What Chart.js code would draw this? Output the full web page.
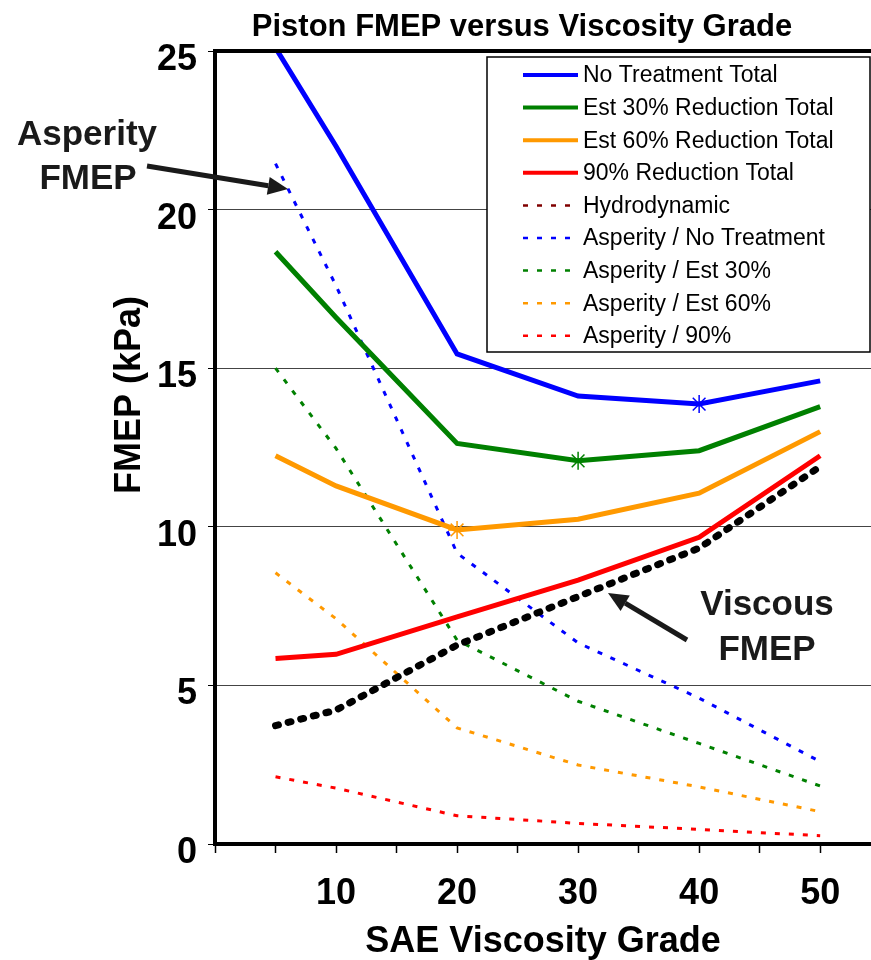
<!DOCTYPE html>
<html>
<head>
<meta charset="utf-8">
<title>Piston FMEP versus Viscosity Grade</title>
<script src="https://cdn.jsdelivr.net/npm/chart.js@4.4.1/dist/chart.umd.min.js"></script>
<style>
	html, body { margin: 0; padding: 0; background: #fff; overflow: hidden; }
	#wrap { width: 871px; height: 960px; }
</style>
</head>
<body>
<div id="wrap"><canvas id="fmepChart" width="871" height="960"></canvas></div>
<script>
	// SAE grades (x positions) and tick labels
	const grades = [5, 10, 20, 30, 40, 50];
	const xTickLabels = [10, 20, 30, 40, 50];
	const yTickLabels = [0, 5, 10, 15, 20, 25];

	// Total FMEP (kPa)
	const noTreatmentTotal = [25.1, 22.0, 15.45, 14.12, 13.87, 14.6];
	const est30Total = [18.67, 16.6, 12.63, 12.08, 12.40, 13.79];
	const est60Total = [12.24, 11.29, 9.9, 10.24, 11.06, 13.0];
	const red90Total = [5.85, 5.98, 7.16, 8.32, 9.67, 12.24];

	// Components (kPa)
	const hydrodynamic = [3.73, 4.22, 6.27, 7.8, 9.33, 11.9];
	const asperityNoTreatment = [21.45, 17.6, 9.17, 6.34, 4.6, 2.6];
	const asperity30 = [15.0, 12.47, 6.43, 4.5, 3.17, 1.83];
	const asperity60 = [8.55, 7.1, 3.66, 2.49, 1.8, 1.02];
	const asperity90 = [2.12, 1.76, 0.89, 0.65, 0.46, 0.26];

	const FONT = "'Liberation Sans', Arial, sans-serif";
	const DOTS = [5, 9];

	const toPoints = arr => grades.map((g, i) => ({ x: g, y: arr[i] }));
	// star marker on a single grade
	const starAt = grade => grades.map(g => (g === grade ? 9 : 0));

	function solid(label, data, color, star) {
		return {
			label: label,
			data: toPoints(data),
			borderColor: color,
			backgroundColor: color,
			borderWidth: 5,
			pointStyle: 'star',
			pointRadius: star ? starAt(star) : 0,
			pointBorderColor: color,
			pointBorderWidth: 1.5,
			order: 1
		};
	}

	function dotted(label, data, color) {
		return {
			label: label,
			data: toPoints(data),
			borderColor: color,
			backgroundColor: color,
			borderWidth: 3,
			borderDash: DOTS,
			pointRadius: 0,
			order: 2
		};
	}

	const datasets = [
		solid('No Treatment Total', noTreatmentTotal, '#0000ff', 40),
		solid('Est 30% Reduction Total', est30Total, '#008000', 30),
		solid('Est 60% Reduction Total', est60Total, '#ff9900', 20),
		solid('90% Reduction Total', red90Total, '#ff0000'),
		{
			label: 'Hydrodynamic',
			data: toPoints(hydrodynamic),
			borderColor: '#000',
			borderWidth: 7,
			borderDash: [3, 10],
			borderCapStyle: 'round',
			pointRadius: 0,
			order: 0,
			// legend swatch differs from the plotted line
			legendStyle: { color: '#800000', width: 2.5, dash: DOTS }
		},
		dotted('Asperity / No Treatment', asperityNoTreatment, '#0000ff'),
		dotted('Asperity / Est 30%', asperity30, '#008000'),
		dotted('Asperity / Est 60%', asperity60, '#ff9900'),
		dotted('Asperity / 90%', asperity90, '#ff0000')
	];

	function drawArrow(ctx, x1, y1, x2, y2) {
		const ang = Math.atan2(y2 - y1, x2 - x1);
		const head = 20, half = 9;
		const bx = x2 - head * Math.cos(ang);
		const by = y2 - head * Math.sin(ang);
		ctx.strokeStyle = '#1a1a1a';
		ctx.fillStyle = '#1a1a1a';
		ctx.lineWidth = 5;
		ctx.setLineDash([]);
		ctx.beginPath();
		ctx.moveTo(x1, y1);
		ctx.lineTo(bx, by);
		ctx.stroke();
		ctx.beginPath();
		ctx.moveTo(x2, y2);
		ctx.lineTo(bx + half * Math.sin(ang), by - half * Math.cos(ang));
		ctx.lineTo(bx - half * Math.sin(ang), by + half * Math.cos(ang));
		ctx.closePath();
		ctx.fill();
	}

	/**
	 * Frame, titles, y tick labels, boxed legend and the two callouts
	 */
	const fmepDecorations = {
		id: 'fmepDecorations',
		afterDraw: function(chart) {
			const { ctx, chartArea } = chart;
			const yScale = chart.scales.y;
			ctx.save();

			// top edge of the plot frame
			ctx.strokeStyle = '#000';
			ctx.lineWidth = 4;
			ctx.beginPath();
			ctx.moveTo(chartArea.left - 2, chartArea.top);
			ctx.lineTo(chartArea.right, chartArea.top);
			ctx.stroke();

			// y tick labels, sitting a little below their ticks as in the source
			ctx.fillStyle = '#000';
			ctx.font = 'bold 36px ' + FONT;
			ctx.textAlign = 'right';
			ctx.textBaseline = 'middle';
			yTickLabels.forEach(v => {
				ctx.fillText(String(v), chartArea.left - 18, yScale.getPixelForValue(v) + 9);
			});

			// chart title
			ctx.font = 'bold 31px ' + FONT;
			ctx.textAlign = 'center';
			ctx.textBaseline = 'alphabetic';
			ctx.fillText('Piston FMEP versus Viscosity Grade', 522, 36);

			// y axis title
			ctx.save();
			ctx.translate(140, 395);
			ctx.rotate(-Math.PI / 2);
			ctx.font = 'bold 36px ' + FONT;
			ctx.fillText('FMEP (kPa)', 0, 0);
			ctx.restore();

			// legend box
			const box = { left: 487, top: 57, right: 870, bottom: 352 };
			ctx.fillStyle = '#fff';
			ctx.fillRect(box.left, box.top, box.right - box.left, box.bottom - box.top);
			ctx.strokeStyle = '#000';
			ctx.lineWidth = 1.5;
			ctx.strokeRect(box.left, box.top, box.right - box.left, box.bottom - box.top);

			ctx.font = '23px ' + FONT;
			ctx.textAlign = 'left';
			ctx.textBaseline = 'middle';
			chart.data.datasets.forEach((ds, i) => {
				const y = 75 + i * 32.6;
				const style = ds.legendStyle || {
					color: ds.borderColor,
					width: ds.borderDash ? 2.5 : 4,
					dash: ds.borderDash || []
				};
				ctx.strokeStyle = style.color;
				ctx.lineWidth = style.width;
				ctx.setLineDash(style.dash);
				ctx.lineCap = 'butt';
				ctx.beginPath();
				ctx.moveTo(523, y);
				ctx.lineTo(578, y);
				ctx.stroke();
				ctx.setLineDash([]);
				ctx.fillStyle = '#000';
				ctx.fillText(ds.label, 583, y + 1);
			});

			// callouts
			ctx.fillStyle = '#1a1a1a';
			ctx.font = 'bold 35px ' + FONT;
			ctx.textAlign = 'center';
			ctx.textBaseline = 'alphabetic';
			ctx.fillText('Asperity', 87, 145);
			ctx.fillText('FMEP', 88, 189);
			ctx.fillText('Viscous', 767, 615);
			ctx.fillText('FMEP', 767, 660);
			drawArrow(ctx, 147, 166, 288, 189);
			drawArrow(ctx, 687, 640, 608, 593);

			ctx.restore();
		}
	};

	const ctx = document.getElementById('fmepChart');
	new Chart(ctx, {
		type: 'line',
		data: { datasets: datasets },
		options: {
			responsive: false,
			devicePixelRatio: 1,
			animation: false,
			layout: { padding: { top: 51, right: 0, bottom: 0, left: 0 } },
			plugins: {
				legend: { display: false },
				title: { display: false },
				tooltip: { enabled: false }
			},
			scales: {
				x: {
					type: 'linear',
					min: 0,
					max: 54.2,
					afterFit: function(scale) { scale.height = 116; },
					border: { display: true, color: '#000', width: 4 },
					grid: {
						drawOnChartArea: false,
						drawTicks: true,
						tickLength: 9,
						tickColor: '#000',
						tickWidth: 1.5
					},
					ticks: {
						stepSize: 5,
						includeBounds: false,
						autoSkip: false,
						maxRotation: 0,
						padding: 19,
						color: '#000',
						font: { family: FONT, size: 36, weight: 'bold' },
						callback: v => (xTickLabels.includes(v) ? String(v) : '')
					},
					title: {
						display: true,
						text: 'SAE Viscosity Grade',
						color: '#000',
						font: { family: FONT, size: 36, weight: 'bold', lineHeight: 1.0 },
						padding: { top: 0, bottom: 0 }
					}
				},
				y: {
					min: 0,
					max: 25,
					afterFit: function(scale) { scale.width = 215; },
					border: { display: true, color: '#000', width: 4 },
					grid: {
						color: '#444',
						lineWidth: 1,
						drawTicks: true,
						tickLength: 7,
						tickColor: '#000'
					},
					ticks: {
						stepSize: 5,
						display: false
					}
				}
			}
		},
		plugins: [fmepDecorations]
	});
</script>
</body>
</html>
